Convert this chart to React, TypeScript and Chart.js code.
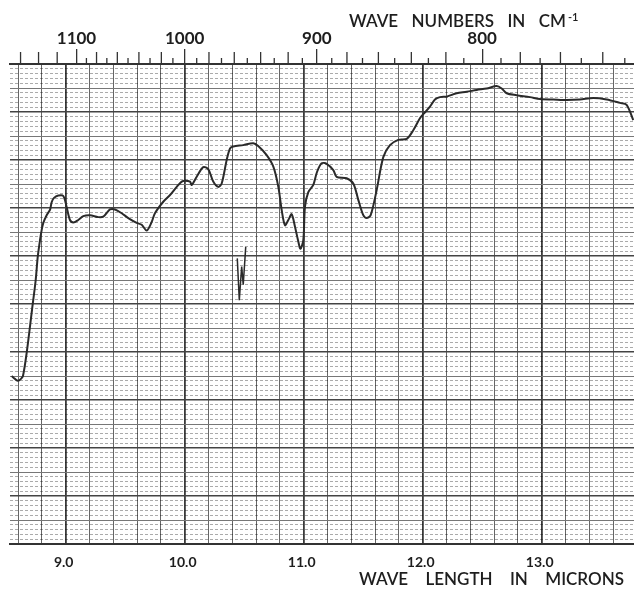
import { useEffect, useRef } from "react";
import { Chart, registerables } from "chart.js";

Chart.register(...registerables);

// ---- data (wavelength in microns, transmittance in %) ----
const WAVELENGTH = [
  8.546, 8.574, 8.599, 8.624, 8.641, 8.672, 8.717, 8.748, 8.765, 8.784,
  8.798, 8.812, 8.84, 8.868, 8.882, 8.902, 8.938, 8.98, 9.008, 9.036,
  9.064, 9.106, 9.148, 9.204, 9.274, 9.316, 9.372, 9.414, 9.471, 9.526,
  9.597, 9.639, 9.681, 9.723, 9.75, 9.82, 9.877, 9.933, 9.975, 10.003,
  10.045, 10.059, 10.101, 10.156, 10.198, 10.24, 10.282, 10.311, 10.353, 10.381,
  10.408, 10.492, 10.576, 10.618, 10.689, 10.745, 10.787, 10.815, 10.843, 10.871,
  10.899, 10.927, 10.955, 10.973, 10.997, 11.011, 11.039, 11.081, 11.112, 11.151,
  11.193, 11.249, 11.277, 11.361, 11.417, 11.459, 11.501, 11.529, 11.563, 11.613,
  11.669, 11.725, 11.795, 11.866, 11.921, 11.977, 12.011, 12.061, 12.103, 12.145,
  12.202, 12.286, 12.37, 12.454, 12.538, 12.622, 12.664, 12.706, 12.79, 12.902,
  12.986, 13.098, 13.21, 13.322, 13.434, 13.546, 13.658, 13.714, 13.77,
];
const TRANSMITTANCE = [
  35.0, 34.4, 34.0, 34.4, 35.0, 39.8, 48.8, 55.0, 59.8, 63.3,
  65.4, 66.9, 68.5, 69.6, 71.2, 72.1, 72.6, 72.5, 70.2, 67.5,
  67.0, 67.5, 68.3, 68.5, 68.1, 68.2, 69.7, 69.7, 68.9, 67.9,
  66.9, 66.5, 65.3, 67.1, 68.9, 71.3, 72.7, 74.4, 75.5, 75.7,
  75.5, 74.8, 76.5, 78.5, 78.1, 75.5, 74.4, 75.1, 80.0, 82.4,
  82.8, 83.1, 83.5, 82.9, 81.0, 78.6, 74.4, 69.6, 66.4, 67.5,
  68.7, 66.1, 63.0, 61.5, 63.3, 70.3, 73.3, 74.8, 77.5, 79.3,
  79.2, 77.9, 76.5, 76.2, 75.1, 71.7, 68.5, 67.9, 68.5, 73.7,
  80.6, 83.1, 84.2, 84.4, 86.2, 88.7, 89.7, 91.1, 92.6, 93.1,
  93.2, 93.9, 94.2, 94.6, 94.9, 95.4, 94.9, 93.9, 93.5, 93.1,
  92.7, 92.6, 92.5, 92.6, 92.9, 92.6, 91.9, 91.5, 88.3,
];
// small pen mark on the chart paper
const PEN_WAVELENGTH = [10.442, 10.459, 10.479, 10.492, 10.513];
const PEN_TRANSMITTANCE = [59.5, 50.8, 57.8, 54.0, 61.9];

// ---- axes ----
const X_MIN = 8.532;
const X_MAX = 13.776;
const MICRON_GRID = [
  8.6, 8.8, 9.0, 9.2, 9.4, 9.6, 9.8, 10.0, 10.2, 10.4, 10.6, 10.8, 11.0,
  11.2, 11.4, 11.6, 11.8, 12.0, 12.2, 12.4, 12.6, 12.8, 13.0, 13.2, 13.4, 13.6,
];
const WAVENUMBER_LABELS = [1100, 1000, 900, 800];
const WAVENUMBER_MINOR = [
  1160, 1140, 1120, 1090, 1080, 1070, 1060, 1050, 1040, 1030, 1020, 1010,
  990, 980, 970, 960, 950, 940, 930, 920, 910, 890, 880, 870, 860, 850,
  840, 830, 820, 810, 790, 780, 770, 760, 750, 740, 730,
];
const TOP_TITLE = ["WAVE", "NUMBERS", "IN", "CM"];
const TOP_TITLE_SUP = "-1";
const BOTTOM_TITLE = ["WAVE", "LENGTH", "IN", "MICRONS"];

const FONT = "Lato, 'DejaVu Sans', sans-serif";
const isInt = (v: number) => Math.abs(v - Math.round(v)) < 1e-6;

function drawJustified(ctx: CanvasRenderingContext2D, words: string[], left: number, right: number, y: number) {
  const widths = words.map((w) => ctx.measureText(w).width);
  const sum = widths.reduce((a, b) => a + b, 0);
  const gap = words.length > 1 ? (right - left - sum) / (words.length - 1) : 0;
  let x = left;
  ctx.textAlign = "left";
  words.forEach((w, i) => {
    ctx.fillText(w, x, y);
    x += widths[i] + gap;
  });
}

const overlay = {
  id: "overlay",
  afterDraw(chart: any) {
    const ctx: CanvasRenderingContext2D = chart.ctx;
    const top = chart.chartArea.top;
    const s = chart.scales.xTop;
    ctx.save();
    // minor wavenumber ticks
    ctx.strokeStyle = "#333";
    ctx.lineWidth = 1.3;
    WAVENUMBER_MINOR.forEach((wn) => {
      const x = s.getPixelForValue(10000 / wn);
      if (x < chart.chartArea.left || x > chart.chartArea.right) return;
      const len = wn % 20 === 0 ? 12 : 6;
      ctx.beginPath();
      ctx.moveTo(x, top - len);
      ctx.lineTo(x, top);
      ctx.stroke();
    });
    // titles
    ctx.fillStyle = "#1e1e1e";
    ctx.textBaseline = "alphabetic";
    ctx.font = `600 17px ${FONT}`;
    drawJustified(ctx, TOP_TITLE, 349, 566, 27);
    ctx.font = `600 11px ${FONT}`;
    ctx.fillText(TOP_TITLE_SUP, 568, 21);
    ctx.font = `600 17px ${FONT}`;
    drawJustified(ctx, BOTTOM_TITLE, 359, 624, 585);
    ctx.restore();
  },
};

export default function App() {
  const ref = useRef<HTMLCanvasElement>(null);
  useEffect(() => {
    document.body.style.margin = "0";
    const chart = new Chart(ref.current!, {
      type: "line",
      data: {
        datasets: [
          {
            data: WAVELENGTH.map((x, i) => ({ x, y: TRANSMITTANCE[i] })),
            borderColor: "#2a2a2a",
            borderWidth: 2,
            pointRadius: 0,
            tension: 0.3,
            fill: false,
          },
          {
            data: PEN_WAVELENGTH.map((x, i) => ({ x, y: PEN_TRANSMITTANCE[i] })),
            borderColor: "#2a2a2a",
            borderWidth: 1.5,
            pointRadius: 0,
            tension: 0,
            fill: false,
          },
        ],
      },
      options: {
        animation: false,
        responsive: false,
        devicePixelRatio: 1,
        layout: { padding: 0 },
        plugins: {
          legend: { display: false },
          tooltip: { enabled: false },
          title: { display: false },
        },
        scales: {
          x: {
            type: "linear",
            position: "bottom",
            min: X_MIN,
            max: X_MAX,
            afterBuildTicks: (sc: any) => {
              sc.ticks = MICRON_GRID.map((v) => ({ value: v }));
            },
            afterFit: (sc: any) => {
              sc.height = 45;
            },
            ticks: {
              autoSkip: false,
              maxRotation: 0,
              minRotation: 0,
              padding: 10,
              labelOffset: -2,
              color: "#1e1e1e",
              font: { family: FONT, size: 14, weight: "bold" },
              callback: (v: any) => (isInt(Number(v)) ? Number(v).toFixed(1) : ""),
            },
            grid: {
              drawTicks: false,
              color: (c: any) => (c.tick && isInt(c.tick.value) ? "#3a3a3a" : "#666"),
              lineWidth: (c: any) => (c.tick && isInt(c.tick.value) ? 1.8 : 1),
            },
            border: { display: true, color: "#333", width: 2 },
          },
          xTop: {
            type: "linear",
            position: "top",
            min: X_MIN,
            max: X_MAX,
            afterBuildTicks: (sc: any) => {
              sc.ticks = WAVENUMBER_LABELS.map((w) => ({ value: 10000 / w }));
            },
            afterFit: (sc: any) => {
              sc.height = 64;
            },
            ticks: {
              autoSkip: false,
              maxRotation: 0,
              minRotation: 0,
              padding: 0,
              color: "#1e1e1e",
              font: { family: FONT, size: 17, weight: "bold" },
              callback: (v: any) => String(Math.round(10000 / Number(v))),
            },
            grid: {
              drawOnChartArea: false,
              drawTicks: true,
              tickLength: 15,
              color: "#333",
              lineWidth: 1.3,
            },
            border: { display: true, color: "#333", width: 2 },
          },
          y: {
            type: "linear",
            min: 0,
            max: 100,
            afterBuildTicks: (sc: any) => {
              const t: any[] = [];
              for (let v = 0; v <= 100; v++) t.push({ value: v });
              sc.ticks = t;
            },
            afterFit: (sc: any) => {
              sc.width = 10;
            },
            ticks: { display: false },
            grid: {
              drawTicks: false,
              color: (c: any) => {
                const v = c.tick ? c.tick.value : 0;
                if (v % 10 === 0) return "#444";
                if (v % 5 === 0) return "#777";
                return "rgba(0,0,0,0.33)";
              },
              lineWidth: (c: any) => {
                const v = c.tick ? c.tick.value : 0;
                return v % 10 === 0 ? 1.6 : 1;
              },
            },
            border: {
              display: false,
              dash: (c: any) => {
                const v = c.tick ? c.tick.value : 0;
                return v % 5 === 0 ? [] : [3, 2];
              },
            },
          },
        },
      } as any,
      plugins: [overlay],
    });
    return () => chart.destroy();
  }, []);
  return <canvas ref={ref} width={634} height={589} style={{ display: "block" }} />;
}
